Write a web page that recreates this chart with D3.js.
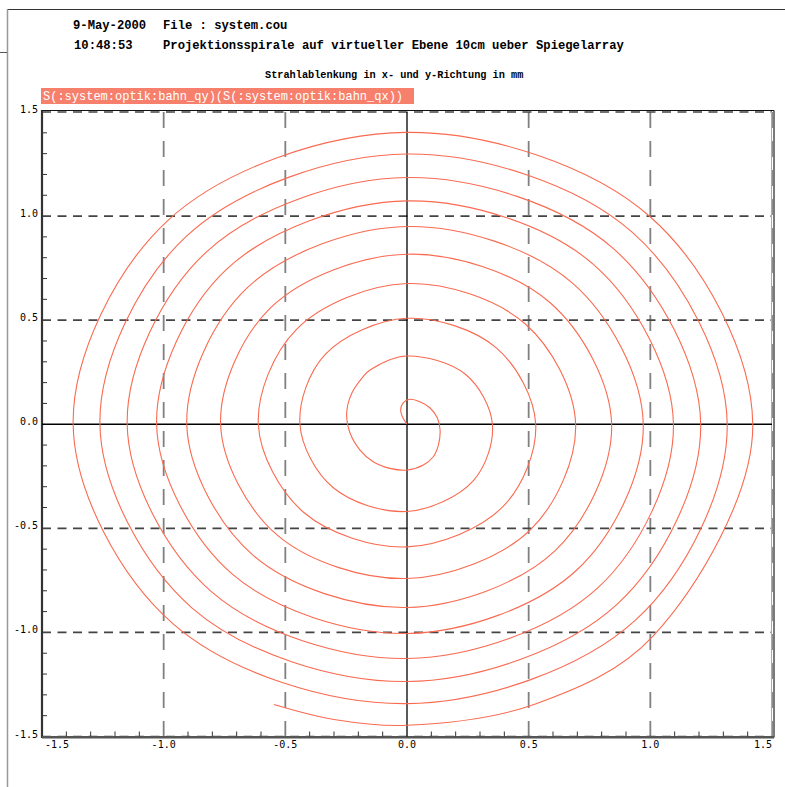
<!DOCTYPE html>
<html>
<head>
<meta charset="utf-8">
<script src="https://cdn.jsdelivr.net/npm/d3@7"></script>
<style>
  html, body { margin: 0; padding: 0; background: #fff; }
  svg { display: block; }
</style>
</head>
<body>
<svg id="chart" width="785" height="787"></svg>
<script>
// ---- text ----
const headerDate = "9-May-2000";
const headerTime = "10:48:53";
const headerFile = "File : system.cou";
const headerTitle = "Projektionsspirale auf virtueller Ebene 10cm ueber Spiegelarray";
const subTitle = "Strahlablenkung in x- und y-Richtung in mm";
const legendLabel = "S(:system:optik:bahn_qy)(S(:system:optik:bahn_qx))";

// ---- axes ----
const xDomain = [-1.5, 1.5];
const yDomain = [-1.5, 1.5];
const majorTicks = [-1.5, -1.0, -0.5, 0.0, 0.5, 1.0, 1.5];
const tickLabels = ["-1.5", "-1.0", "-0.5", "0.0", "0.5", "1.0", "1.5"];
const minorTicks = [-1.4,-1.3,-1.2,-1.1,-0.9,-0.8,-0.7,-0.6,-0.4,-0.3,-0.2,-0.1,
                    0.1,0.2,0.3,0.4,0.6,0.7,0.8,0.9,1.1,1.2,1.3,1.4];

// ---- spiral (bahn_qx, bahn_qy) ----
const spiralX = [
  0.000, -0.019, -0.026, -0.015, 0.012, 0.053, 0.095, 0.125, 0.136, 0.129, 0.108, 0.067,
  0.001, -0.070, -0.139, -0.193, -0.234, -0.248, -0.227, -0.180, -0.152,
  0.000, 0.240, 0.351, 0.272, 0.000, -0.304, -0.440, -0.336,
  0.000, 0.367, 0.529, 0.395, 0.000, -0.424, -0.611, -0.455,
  0.000, 0.484, 0.693, 0.507, 0.000, -0.533, -0.766, -0.560,
  0.000, 0.586, 0.841, 0.608, 0.000, -0.631, -0.905, -0.656,
  0.000, 0.679, 0.971, 0.699, 0.000, -0.719, -1.029, -0.743,
  0.000, 0.767, 1.095, 0.785, 0.000, -0.804, -1.150, -0.826,
  0.000, 0.846, 1.207, 0.864, 0.000, -0.883, -1.262, -0.905,
  0.000, 0.924, 1.316, 0.940, 0.000, -0.960, -1.372, -0.981,
  0.000, 0.998, 1.421, 1.014, 0.525, 0.000, -0.300, -0.547
];
const spiralY = [
  0.000, 0.036, 0.069, 0.104, 0.120, 0.108, 0.078, 0.030, -0.028, -0.100, -0.156, -0.196,
  -0.220, -0.212, -0.180, -0.124, -0.042, 0.053, 0.149, 0.229, 0.261,
  0.328, 0.240, 0.000, -0.272, -0.419, -0.304, 0.000, 0.336,
  0.509, 0.367, 0.000, -0.395, -0.589, -0.424, 0.000, 0.455,
  0.676, 0.484, 0.000, -0.507, -0.741, -0.533, 0.000, 0.560,
  0.817, 0.586, 0.000, -0.608, -0.880, -0.631, 0.000, 0.656,
  0.950, 0.679, 0.000, -0.699, -1.005, -0.719, 0.000, 0.743,
  1.073, 0.767, 0.000, -0.785, -1.125, -0.804, 0.000, 0.826,
  1.185, 0.846, 0.000, -0.864, -1.236, -0.883, 0.000, 0.905,
  1.298, 0.924, 0.000, -0.940, -1.342, -0.960, 0.000, 0.981,
  1.402, 0.998, 0.000, -1.014, -1.345, -1.446, -1.418, -1.346
];

const svg = d3.select("#chart");
const mono = "'Liberation Mono', 'Courier New', monospace";
const tickFont = "'DejaVu Sans Mono', monospace";

// page frame lines
svg.append("line").attr("x1", 7).attr("x2", 785).attr("y1", 9.5).attr("y2", 9.5)
  .attr("stroke", "#333").attr("stroke-width", 1.2);
svg.append("line").attr("x1", 7.5).attr("x2", 7.5).attr("y1", 9).attr("y2", 787)
  .attr("stroke", "#999").attr("stroke-width", 1.5);
svg.append("line").attr("x1", 0).attr("x2", 7).attr("y1", 52.5).attr("y2", 52.5)
  .attr("stroke", "#555").attr("stroke-width", 1);

// header
const hdr = svg.append("g").attr("font-family", mono).attr("font-weight", "bold")
  .attr("font-size", "12.2px").attr("fill", "#000");
hdr.append("text").attr("x", 73).attr("y", 29).text(headerDate);
hdr.append("text").attr("x", 163).attr("y", 29).text(headerFile);
hdr.append("text").attr("x", 74).attr("y", 49).text(headerTime);
hdr.append("text").attr("x", 163).attr("y", 49).text(headerTitle);

svg.append("text").attr("x", 265).attr("y", 78)
  .attr("font-family", mono).attr("font-weight", "bold").attr("font-size", "10.25px")
  .attr("fill", "#000").text(subTitle);

// legend
svg.append("rect").attr("x", 41).attr("y", 88).attr("width", 373).attr("height", 16)
  .attr("fill", "#f7806c");
svg.append("text").attr("x", 43).attr("y", 100)
  .attr("font-family", mono).attr("font-size", "12px").attr("fill", "#fff")
  .text(legendLabel);

// scales
const x = d3.scaleLinear().domain(xDomain).range([42, 772]);
const y = d3.scaleLinear().domain(yDomain).range([736.5, 112]);

const plot = svg.append("g");

// vertical dashed grid
plot.selectAll(".vg").data(majorTicks.filter(v => v !== 0 && v !== -1.5)).join("line")
  .attr("x1", d => x(d)).attr("x2", d => x(d))
  .attr("y1", y(1.5)).attr("y2", y(-1.5))
  .attr("stroke", "#808080").attr("stroke-width", 1.8)
  .attr("stroke-dasharray", "16,13");

// horizontal dashed grid
plot.selectAll(".hg").data(majorTicks.filter(v => v !== 0)).join("line")
  .attr("x1", x(-1.5)).attr("x2", x(1.5))
  .attr("y1", d => y(d)).attr("y2", d => y(d))
  .attr("stroke", "#444").attr("stroke-width", 1.6)
  .attr("stroke-dasharray", "9,6.5");

// frame
plot.append("line").attr("x1", x(-1.5) - 1).attr("x2", x(1.5) + 2)
  .attr("y1", y(1.5) - 1.5).attr("y2", y(1.5) - 1.5).attr("stroke", "#111").attr("stroke-width", 1.2);
plot.append("line").attr("x1", x(1.5) + 2).attr("x2", x(1.5) + 2)
  .attr("y1", y(1.5) - 1.5).attr("y2", y(-1.5) + 1).attr("stroke", "#222").attr("stroke-width", 1.2);
plot.append("line").attr("x1", x(1.5) - 0.5).attr("x2", x(1.5) - 0.5)
  .attr("y1", y(1.5)).attr("y2", y(-1.5)).attr("stroke", "#aaa").attr("stroke-width", 1);
plot.append("line").attr("x1", x(-1.5)).attr("x2", x(-1.5))
  .attr("y1", y(1.5) - 1.5).attr("y2", y(-1.5) + 1.5).attr("stroke", "#333").attr("stroke-width", 2.2);
plot.append("line").attr("x1", x(-1.5)).attr("x2", x(1.5) + 2)
  .attr("y1", y(-1.5) + 0.8).attr("y2", y(-1.5) + 0.8).attr("stroke", "#555").attr("stroke-width", 2.4);

// zero axes
plot.append("line").attr("x1", x(0)).attr("x2", x(0))
  .attr("y1", y(1.5)).attr("y2", y(-1.5)).attr("stroke", "#000").attr("stroke-width", 1.3);
plot.append("line").attr("x1", x(-1.5)).attr("x2", x(1.5))
  .attr("y1", y(0)).attr("y2", y(0)).attr("stroke", "#000").attr("stroke-width", 1.3);

// minor ticks (bottom, left)
plot.selectAll(".mtx").data(minorTicks).join("line")
  .attr("x1", d => x(d)).attr("x2", d => x(d))
  .attr("y1", y(-1.5) - 5).attr("y2", y(-1.5))
  .attr("stroke", "#333").attr("stroke-width", 1);
plot.selectAll(".mty").data(minorTicks).join("line")
  .attr("x1", x(-1.5)).attr("x2", x(-1.5) + 5)
  .attr("y1", d => y(d)).attr("y2", d => y(d))
  .attr("stroke", "#333").attr("stroke-width", 1);

// tick labels
const labels = svg.append("g").attr("font-family", tickFont).attr("font-size", "10px").attr("fill", "#000");
labels.selectAll(".yl").data(majorTicks).join("text")
  .attr("x", 38).attr("y", d => y(d) + 1)
  .attr("text-anchor", "end").text((d, i) => tickLabels[i]);
labels.selectAll(".xl").data(majorTicks).join("text")
  .attr("x", (d, i) => i === 0 ? x(d) + 3 : x(d))
  .attr("y", 748)
  .attr("text-anchor", (d, i) => i === 0 ? "start" : (i === majorTicks.length - 1 ? "end" : "middle"))
  .text((d, i) => tickLabels[i]);

// spiral
const pts = spiralX.map((v, i) => [v, spiralY[i]]);
const line = d3.line().x(d => x(d[0])).y(d => y(d[1])).curve(d3.curveCatmullRom.alpha(0.5));
plot.append("path").attr("d", line(pts))
  .attr("fill", "none").attr("stroke", "#fa6a50").attr("stroke-width", 1.1);
</script>
</body>
</html>
